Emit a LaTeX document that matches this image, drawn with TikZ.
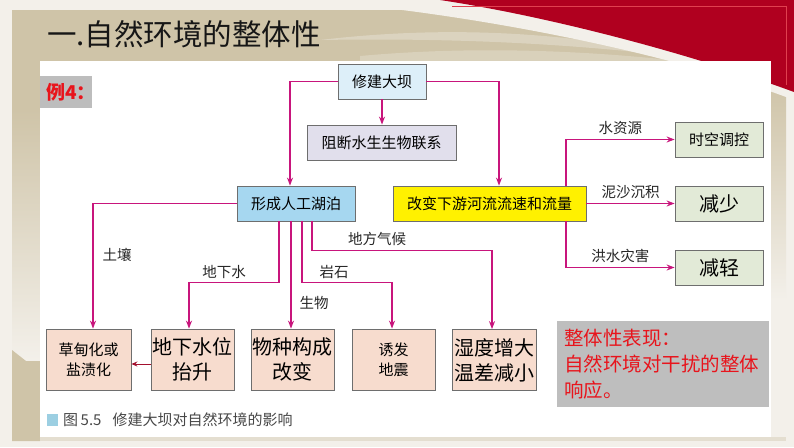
\documentclass[tikz,border=0pt]{standalone}
\usepackage{fontspec}
\setmainfont{Noto Sans CJK SC}
\usetikzlibrary{arrows.meta, positioning, calc}

\definecolor{cream}{HTML}{F3F0EA}
\definecolor{beige}{HTML}{CFC4A8}
\definecolor{slidered}{HTML}{B0001F}
\definecolor{redline}{HTML}{E0404F}
\definecolor{link}{HTML}{C8157C}
\definecolor{darklink}{HTML}{A3102E}
\definecolor{boxline}{HTML}{6E6E6E}
\definecolor{damblue}{HTML}{DDEFF9}
\definecolor{lavender}{HTML}{E1DFEC}
\definecolor{lakeblue}{HTML}{A6D7F0}
\definecolor{riveryellow}{HTML}{FFF100}
\definecolor{sage}{HTML}{E2EAD7}
\definecolor{peach}{HTML}{F7DCCE}
\definecolor{sumgray}{HTML}{BEBEBE}
\definecolor{alert}{HTML}{E8141C}
\definecolor{taggray}{HTML}{BDBDBD}
\definecolor{capblue}{HTML}{9CCFE2}
\definecolor{labtext}{HTML}{262626}
\definecolor{titletext}{HTML}{161616}

\begin{document}
\begin{tikzpicture}[x=1pt, y=-1pt,
    box/.style={rectangle, draw=boxline, line width=0.8pt, inner sep=0pt, minimum height=35pt, align=center, font=\fontsize{15}{18}\selectfont},
    big/.style={box, minimum height=61pt, font=\fontsize{20}{25}\selectfont},
    small/.style={box, minimum height=61pt, font=\fontsize{15}{20}\selectfont},
    arrow/.style={-{Stealth[length=8pt, width=6pt]}, link, line width=1.4pt},
    lab/.style={font=\fontsize{14.5}{17}\selectfont, text=labtext, inner sep=1pt},
]
\useasboundingbox (0,0) rectangle (794,447);

% slide background
\fill[cream] (0,0) rectangle (794,447);
\fill[beige] (12,10) rectangle (786,441);
\shade[top color=beige, bottom color=cream] (12,110) rectangle (40,360);
\fill[beige] (12,350) -- (40,372) -- (40,441) -- (12,441) -- cycle;
\shade[top color=beige, bottom color=cream] (771,85) rectangle (786,300);
\fill[cream] (771,300) rectangle (786,441);
\fill[cream!60!beige] (40,437) rectangle (786,441);
\fill[cream, opacity=0.35] (320,40) .. controls (440,26) and (560,30) .. (690,58) .. controls (560,42) and (440,38) .. cycle;
\fill[cream, opacity=0.3] (360,56) .. controls (470,46) and (580,50) .. (680,61) -- (360,61) -- cycle;
\fill[cream] (300,0) .. controls (430,8) and (650,45) .. (794,100) -- (794,0) -- cycle;
\fill[slidered] (440,0) .. controls (540,15) and (680,50) .. (794,92) -- (794,0) -- cycle;
\draw[redline, line width=0.8pt] (452,6) -- (786,6) -- (786,85);
\fill[white] (40,61) rectangle (771,437);

\node[anchor=west, font=\fontsize{29.5}{34}\selectfont, text=titletext, inner sep=0pt] (title) at (47,34) {一.自然环境的整体性};
\fill[taggray] (40,76) rectangle (92,108);
\node[anchor=west, font=\bfseries\fontsize{19}{22}\selectfont, text=alert, inner sep=0pt] (ex) at (46,92) {例4：};

% boxes
\node[box, fill=damblue, minimum width=88pt] (dam) at (382,81.5) {修建大坝};
\node[box, fill=lavender, minimum width=149pt] (block) at (381.5,142.5) {阻断水生生物联系};
\node[box, fill=lakeblue, minimum width=118pt] (lake) at (296,203.5) {形成人工湖泊};
\node[box, fill=riveryellow, minimum width=193pt] (river) at (489.5,203.5) {改变下游河流流速和流量};
\node[box, fill=sage, minimum width=88pt] (ctrl) at (719,139.5) {时空调控};
\node[box, fill=sage, minimum width=88pt, font=\fontsize{20}{24}\selectfont] (less) at (719,203.5) {减少};
\node[box, fill=sage, minimum width=88pt, font=\fontsize{20}{24}\selectfont] (ease) at (719,267.5) {减轻};
\node[small, fill=peach, minimum width=85pt] (salt) at (88.5,359.5) {草甸化或\\盐渍化};
\node[big, fill=peach, minimum width=83pt] (water) at (192.5,359.5) {地下水位\\抬升};
\node[big, fill=peach, minimum width=83pt] (species) at (292.5,359.5) {物种构成\\改变};
\node[small, fill=peach, minimum width=83pt] (quake) at (393.5,359.5) {诱发\\地震};
\node[big, fill=peach, minimum width=84pt] (humid) at (494,360) {湿度增大\\温差减小};
\node[fill=sumgray, minimum width=212pt, minimum height=86pt, inner sep=0pt, text width=198pt, align=left, text=alert, font=\fontsize{19.5}{26}\selectfont] (sum) at (663,364) {整体性表现：\\自然环境对干扰的整体\\响应。};

% connectors
\draw[arrow] (dam.west) -| ([xshift=-6pt]lake.north);
\draw[arrow] (dam.east) -| ([xshift=9.5pt]river.north);
\draw[arrow] (dam.south) -- (dam.south |- block.north);
\draw[arrow] ([xshift=76.5pt]river.north) |- (ctrl.west) node[lab, pos=0.75, above=3pt] (lwat) {水资源};
\draw[arrow] (river.east) -- node[lab, above=3pt] (lsed) {泥沙沉积} (less.west);
\draw[arrow] ([xshift=76.5pt]river.south) |- (ease.west) node[lab, pos=0.75, above=3pt] (lfld) {洪水灾害};
\draw[arrow] (lake.west) -| ([xshift=4.5pt]salt.north);
\draw[arrow] ([xshift=-17pt]lake.south) -- ++(0,61) -| ([xshift=-3.5pt]water.north);
\draw[arrow] ([xshift=-5pt]lake.south) -- ([xshift=-1.5pt]species.north);
\draw[arrow] ([xshift=6pt]lake.south) -- ++(0,61) -| ([xshift=-1.5pt]quake.north);
\draw[arrow] ([xshift=16pt]lake.south) -- ++(0,29) -| ([xshift=-2pt]humid.north);
\draw[-{Stealth[length=6pt, width=5pt]}, darklink, line width=1pt] ([yshift=-4.5pt]water.west) -- ([yshift=-4.5pt]salt.east);
\node[lab] (lsoil) at (117,255) {土壤};
\node[lab] (lgw) at (224,272) {地下水};
\node[lab] (lbio) at (314,303) {生物};
\node[lab] (lrock) at (334,272) {岩石};
\node[lab] (lclim) at (377,239) {地方气候};

% caption
\fill[capblue] (47,414) rectangle (58,426);
\node[anchor=west, font=\fontsize{15}{18}\selectfont, text=labtext!85!white, inner sep=0pt] (cap) at (63,420) {图\,5.5\hspace{11pt}修建大坝对自然环境的影响};

\end{tikzpicture}
\end{document}
